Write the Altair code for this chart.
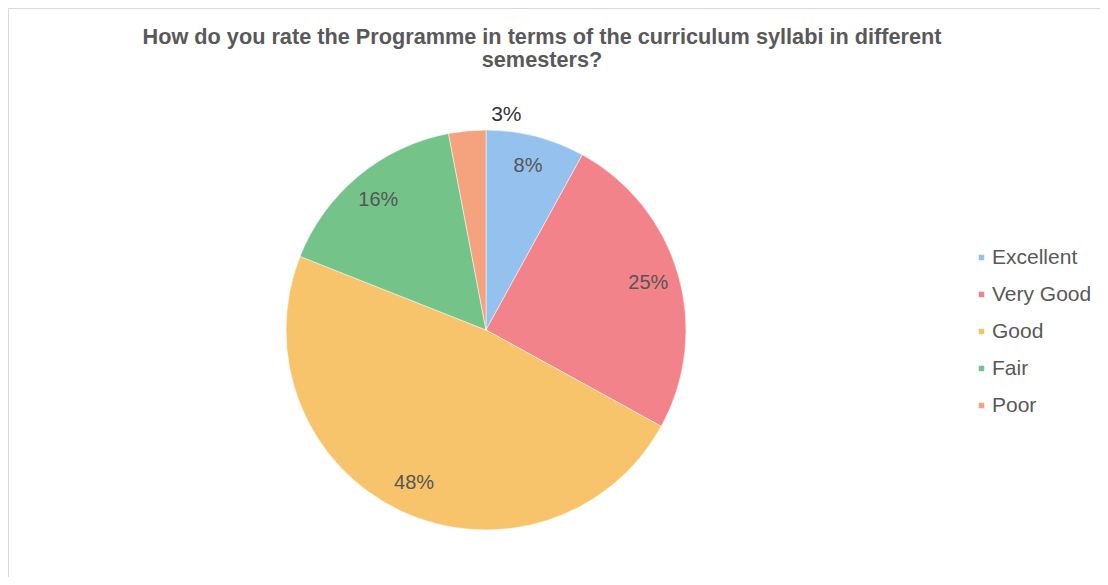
import altair as alt
import pandas as pd

categories = ["Excellent", "Very Good", "Good", "Fair", "Poor"]
values = [8, 25, 48, 16, 3]
labels = ["8%", "25%", "48%", "16%", "3%"]
colors = ["#95c1ee", "#f2838a", "#f7c46c", "#74c48a", "#f5a27e"]
title_lines = ["How do you rate the Programme in terms of the curriculum syllabi in different", "semesters?"]

df = pd.DataFrame({"Rating": categories, "Value": values, "Label": labels,
                   "order": list(range(len(categories)))})

cx, cy, R = 478, 322, 200

base = alt.Chart(df).encode(
    theta=alt.Theta("Value:Q", stack=True),
    order=alt.Order("order:Q"),
)

pie = base.mark_arc(outerRadius=R, stroke="white", strokeWidth=0.5).encode(
    x=alt.value(cx), y=alt.value(cy),
    color=alt.Color("Rating:N", sort=categories,
                    scale=alt.Scale(domain=categories, range=colors),
                    legend=alt.Legend(title=None, orient="none", legendX=963, legendY=239,
                                      symbolType="square", symbolSize=49,
                                      labelFontSize=21, labelFont="Liberation Sans",
                                      labelColor="#595959", rowPadding=15,
                                      labelOffset=0, padding=0)),
)

inner = base.mark_text(radius=169, fontSize=20, font="Liberation Sans",
                       color="#555555").encode(
    x=alt.value(cx), y=alt.value(cy), text="Label:N"
).transform_filter(alt.datum.Value >= 5)

outer = base.mark_text(radius=216, fontSize=21, font="Liberation Sans",
                       color="#333333").encode(
    x=alt.value(cx), y=alt.value(cy), text="Label:N"
).transform_filter(alt.datum.Value < 5)

t1 = alt.Chart(pd.DataFrame({"t": [title_lines[0]]})).mark_text(
    fontSize=21.7, fontWeight="bold", font="Liberation Sans", color="#595959"
).encode(x=alt.value(534), y=alt.value(29), text="t:N")
t2 = alt.Chart(pd.DataFrame({"t": [title_lines[1]]})).mark_text(
    fontSize=21.7, fontWeight="bold", font="Liberation Sans", color="#595959"
).encode(x=alt.value(534), y=alt.value(52), text="t:N")

chart = alt.layer(pie, inner, outer, t1, t2).properties(
    width=1092, height=569, padding=0, autosize=alt.AutoSizeParams(type="none")
).configure_view(stroke="#d9d9d9", strokeWidth=1)

chart.save("out.html", embed_options={"renderer": "svg", "actions": False})
